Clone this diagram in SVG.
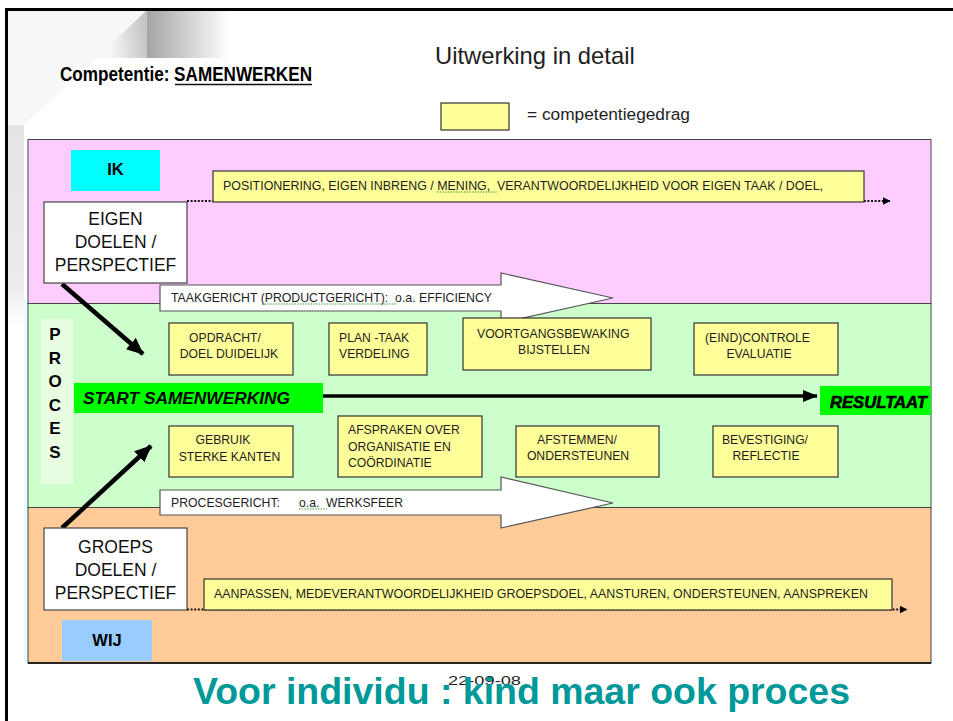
<svg xmlns="http://www.w3.org/2000/svg" width="953" height="721" viewBox="0 0 953 721">
<style>
text{font-family:"Liberation Sans",Arial,sans-serif}
.tx{fill:#1e1e1e}
.k{fill:#000}
.teal{fill:#009999}
.box{fill:#FFFF99;stroke:#333;stroke-width:1.2}
.wbox{fill:#fff;stroke:#444;stroke-width:1.2}
.blk{fill:#fff;stroke:#555;stroke-width:1.2}
.bt{font-size:12.2px;fill:#1e1e1e}
.big{font-size:17.5px;text-anchor:middle;fill:#111}
.c{text-anchor:middle}
.dot{fill:none;stroke:#111;stroke-width:2;stroke-dasharray:2 1.6}
.thick{fill:none;stroke:#000;stroke-width:4.5}
.wavy{fill:none;stroke:#3a9a3a;stroke-width:1;stroke-dasharray:1.5 1.2}
.pre{white-space:pre}
</style>
<defs>
<linearGradient id="gCurl" x1="0" y1="0" x2="1" y2="0"><stop offset="0" stop-color="#a4a4a4"/><stop offset="1" stop-color="#ffffff"/></linearGradient>
<linearGradient id="gTri" gradientUnits="userSpaceOnUse" x1="110" y1="45" x2="147" y2="40"><stop offset="0" stop-color="#f6f6f6"/><stop offset="1" stop-color="#c4c4c4"/></linearGradient>
<linearGradient id="gStrip" x1="0" y1="0" x2="0" y2="1"><stop offset="0" stop-color="#e4e4e4"/><stop offset="0.8" stop-color="#ececec"/><stop offset="1" stop-color="#ffffff"/></linearGradient>
<marker id="mThick" markerUnits="userSpaceOnUse" markerWidth="17" markerHeight="15" viewBox="0 0 17 15" refX="16" refY="7.5" orient="auto"><path d="M0,0 L17,7.5 L0,15 z" fill="#000"/></marker>
<marker id="mMain" markerUnits="userSpaceOnUse" markerWidth="15" markerHeight="12" viewBox="0 0 15 12" refX="14" refY="6" orient="auto"><path d="M0,0 L15,6 L0,12 z" fill="#000"/></marker>
<marker id="mDot" markerUnits="userSpaceOnUse" markerWidth="8" markerHeight="8" viewBox="0 0 8 8" refX="7.5" refY="4" orient="auto"><path d="M0,0 L8,4 L0,8 z" fill="#000"/></marker>
</defs>

<!-- background & frame -->
<rect x="0" y="0" width="953" height="721" fill="#fff"/>
<g id="decoration">
<polygon points="8,10 147,10 8,140" fill="#f7f7f7"/>
<polygon points="147,10 230,10 230,58 147,58" fill="url(#gCurl)"/>
<polygon points="147,10 147,58 96,58" fill="url(#gTri)"/>
<rect x="8" y="125" width="16" height="200" fill="url(#gStrip)"/>
<rect x="24" y="300" width="4" height="363" fill="#e4ffff"/>
</g>
<path d="M6.5,721 V9.5 H953" fill="none" stroke="#000" stroke-width="3"/>

<!-- header -->
<g id="header">
<text class="k" x="60" y="81" font-size="19.5" font-weight="bold" textLength="252" lengthAdjust="spacingAndGlyphs">Competentie: SAMENWERKEN</text>
<line x1="175" y1="84.5" x2="312" y2="84.5" stroke="#111" stroke-width="1.5"/>
<text class="tx" x="435" y="64" font-size="23.8">Uitwerking in detail</text>
</g>
<g id="legend">
<rect class="box" x="441" y="103" width="68" height="27"/>
<text class="tx" x="527" y="120" font-size="16" textLength="163" lengthAdjust="spacingAndGlyphs">= competentiegedrag</text>
</g>

<!-- bands -->
<g id="band-ik"><rect x="28" y="139.5" width="903" height="164" fill="#FFCCFF" stroke="#444" stroke-width="1"/></g>
<g id="band-proces"><rect x="28" y="303.5" width="903" height="204" fill="#CCFFCC" stroke="#444" stroke-width="1"/></g>
<g id="band-wij"><rect x="28" y="507.5" width="903" height="155.5" fill="#FFCC99" stroke="#444" stroke-width="1"/>
<line x1="28" y1="663" x2="931" y2="663" stroke="#000" stroke-width="1.5"/></g>

<!-- block arrows -->
<g id="taakgericht">
<polygon class="blk" points="160,285 501,285 501,273 613,298 501,323 501,311 160,311"/>
<text class="bt pre" x="171" y="302" textLength="321" lengthAdjust="spacingAndGlyphs">TAAKGERICHT (PRODUCTGERICHT):  o.a. EFFICIENCY</text>
<path class="wavy" d="M262,304 H397"/>
</g>
<g id="procesgericht">
<polygon class="blk" points="160,490 501,490 501,477 613,503 501,528 501,515 160,515"/>
<text class="bt" x="171" y="507" textLength="109" lengthAdjust="spacingAndGlyphs">PROCESGERICHT:</text>
<text class="bt pre" x="299" y="507" textLength="104" lengthAdjust="spacingAndGlyphs">o.a.  WERKSFEER</text>
<path class="wavy" d="M299,509 H327"/>
</g>

<!-- connectors -->
<g id="connectors">
<line class="dot" x1="187" y1="201" x2="890" y2="201" marker-end="url(#mDot)"/>
<line class="dot" x1="187" y1="609.5" x2="907" y2="609.5" marker-end="url(#mDot)"/>
<line class="thick" x1="62" y1="284" x2="143" y2="354" marker-end="url(#mThick)"/>
<line class="thick" x1="62" y1="528" x2="151" y2="446" marker-end="url(#mThick)"/>
<line x1="323" y1="396" x2="817" y2="396" stroke="#000" stroke-width="3.5" marker-end="url(#mMain)"/>
</g>

<!-- IK -->
<g id="ik"><rect x="71" y="150" width="89" height="41" fill="#00FFFF"/>
<text class="k c" x="115.5" y="175" font-size="16.5" font-weight="900">IK</text></g>
<g id="positionering">
<rect class="box" x="213" y="171" width="651" height="31"/>
<text class="tx pre" x="223" y="189.5" font-size="13" textLength="600" lengthAdjust="spacingAndGlyphs">POSITIONERING, EIGEN INBRENG / MENING,  VERANTWOORDELIJKHEID VOOR EIGEN TAAK / DOEL,</text>
<path class="wavy" d="M437,192 H497"/>
</g>
<g id="eigen-doelen">
<rect class="wbox" x="44" y="202" width="143" height="81"/>
<text class="big" x="115.5" y="225">EIGEN</text>
<text class="big" x="115.5" y="248">DOELEN /</text>
<text class="big" x="115.5" y="271">PERSPECTIEF</text>
</g>

<!-- PROCES -->
<g id="proces-label">
<rect x="41" y="319" width="32" height="165" fill="#E8FCE2"/>
<g font-size="17" font-weight="bold" text-anchor="middle">
<text class="k" x="55" y="340">P</text>
<text class="k" x="55" y="363.5">R</text>
<text class="k" x="55" y="387">O</text>
<text class="k" x="55" y="410.5">C</text>
<text class="k" x="55" y="434">E</text>
<text class="k" x="55" y="457.5">S</text>
</g>
</g>
<g id="start">
<rect x="74" y="383" width="249" height="30" fill="#00FF00"/>
<text class="k" x="83" y="403.5" font-size="17" font-weight="bold" font-style="italic" textLength="207" lengthAdjust="spacingAndGlyphs">START SAMENWERKING</text>
</g>
<g id="resultaat">
<rect x="820" y="386" width="111" height="29" fill="#00FF00"/>
<text class="k" x="830" y="408" font-size="16" font-weight="bold" font-style="italic" stroke="#000" stroke-width="0.6" textLength="97" lengthAdjust="spacingAndGlyphs">RESULTAAT</text>
</g>

<g id="opdracht"><rect class="box" x="169" y="323" width="124" height="52"/>
<text class="bt c" x="225" y="342">OPDRACHT/</text>
<text class="bt c" x="229" y="358">DOEL DUIDELIJK</text></g>
<g id="plan-taak"><rect class="box" x="329" y="323" width="98" height="52"/>
<text class="bt" x="339" y="342">PLAN -TAAK</text>
<text class="bt" x="339" y="358">VERDELING</text></g>
<g id="voortgang"><rect class="box" x="463" y="318" width="188" height="52"/>
<text class="bt" x="477" y="338">VOORTGANGSBEWAKING</text>
<text class="bt c" x="554" y="354">BIJSTELLEN</text></g>
<g id="eindcontrole"><rect class="box" x="694" y="323" width="144" height="52"/>
<text class="bt" x="705" y="342">(EIND)CONTROLE</text>
<text class="bt c" x="759" y="358">EVALUATIE</text></g>

<g id="gebruik"><rect class="box" x="169" y="426" width="124" height="51"/>
<text class="bt c" x="223" y="444">GEBRUIK</text>
<text class="bt c" x="229.5" y="461">STERKE KANTEN</text></g>
<g id="afspraken"><rect class="box" x="338" y="416" width="144" height="61"/>
<text class="bt" x="348" y="434">AFSPRAKEN OVER</text>
<text class="bt" x="348" y="451">ORGANISATIE EN</text>
<text class="bt" x="348" y="467">COÖRDINATIE</text></g>
<g id="afstemmen"><rect class="box" x="516" y="426" width="143" height="51"/>
<text class="bt c" x="577" y="444">AFSTEMMEN/</text>
<text class="bt c" x="578" y="460">ONDERSTEUNEN</text></g>
<g id="bevestiging"><rect class="box" x="713" y="426" width="125" height="51"/>
<text class="bt c" x="765" y="444">BEVESTIGING/</text>
<text class="bt c" x="766" y="460">REFLECTIE</text></g>

<!-- WIJ -->
<g id="groeps-doelen">
<rect class="wbox" x="44" y="528" width="143" height="82"/>
<text class="big" x="115.5" y="553">GROEPS</text>
<text class="big" x="115.5" y="575.5">DOELEN /</text>
<text class="big" x="115.5" y="598.5">PERSPECTIEF</text>
</g>
<g id="aanpassen">
<rect class="box" x="204" y="579" width="688" height="31"/>
<text class="tx" x="214" y="597.5" font-size="12.6" textLength="654" lengthAdjust="spacingAndGlyphs">AANPASSEN, MEDEVERANTWOORDELIJKHEID GROEPSDOEL, AANSTUREN, ONDERSTEUNEN, AANSPREKEN</text>
</g>
<g id="wij"><rect x="62" y="620" width="90" height="41" fill="#99CCFF"/>
<text class="k c" x="107" y="646" font-size="16.5" font-weight="900">WIJ</text></g>

<!-- footer -->
<g id="footer">
<text class="tx" x="448" y="685" font-size="13" textLength="73" lengthAdjust="spacingAndGlyphs">22-09-08</text>
<text class="teal" x="193" y="704" font-size="37" font-weight="bold" textLength="657" lengthAdjust="spacingAndGlyphs">Voor individu : kind maar ook proces</text>
</g>
</svg>
